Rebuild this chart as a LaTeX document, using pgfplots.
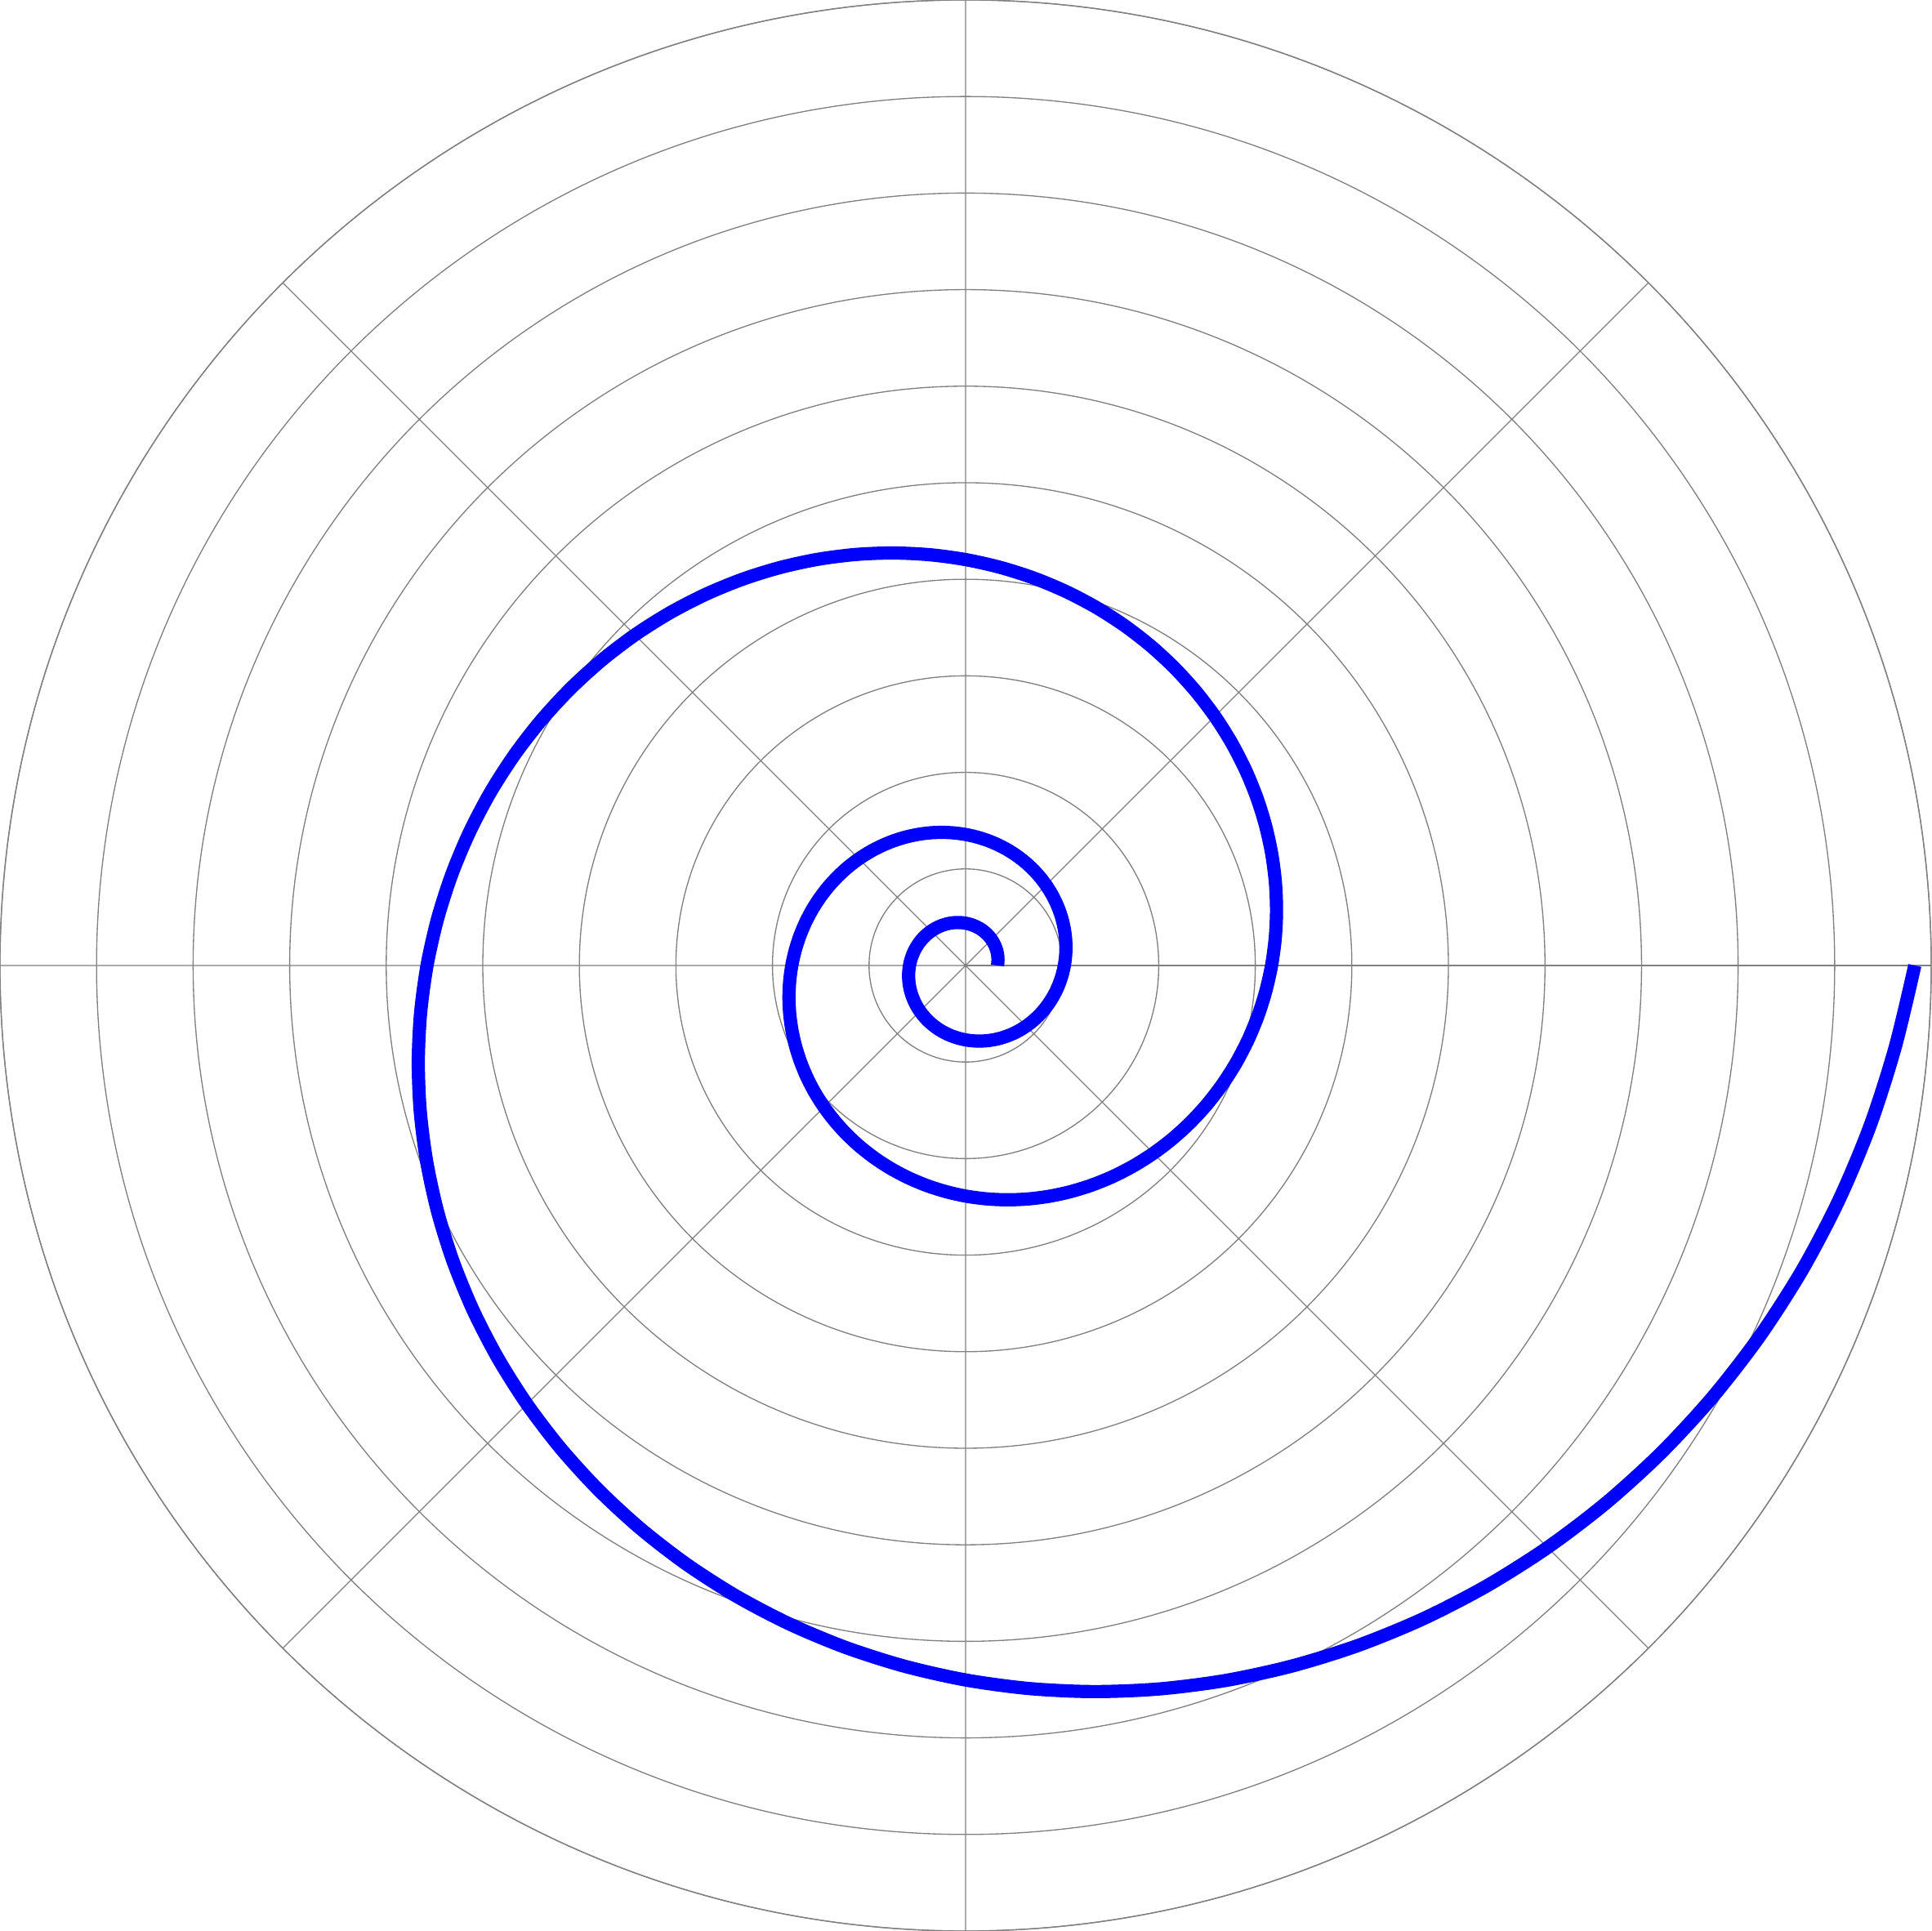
\documentclass[border=0pt]{standalone}
\usepackage{pgfplots}
\pgfplotsset{compat=1.18}
\usepgfplotslibrary{polar}
\begin{document}
\begin{tikzpicture}
\begin{polaraxis}[
  scale only axis,
  width=10cm, height=10cm,
  ymin=0, ymax=10,
  xtick={0,45,...,315},
  ytick={1,2,...,10},
  xticklabels={}, yticklabels={},
  major tick length=0pt,
  grid=major,
  major grid style={draw=gray, line width=0.16pt},
  axis line style={draw=gray, line width=0.16pt},
]
\addplot[blue, line width=1.95pt, no markers, line join=round, smooth] coordinates {
(0,0.33) (5,0.33522) (10,0.34053) (15,0.34592) (20,0.35140) (25,0.35696)
(30,0.36261) (35,0.36835) (40,0.37418) (45,0.38011) (50,0.38613) (55,0.39224)
(60,0.39846) (65,0.40477) (70,0.41118) (75,0.41768) (80,0.42429) (85,0.43101)
(90,0.43783) (95,0.44476) (100,0.45180) (105,0.45896) (110,0.46623) (115,0.47361)
(120,0.48110) (125,0.48872) (130,0.49645) (135,0.50432) (140,0.51230) (145,0.52042)
(150,0.52865) (155,0.53702) (160,0.54552) (165,0.55416) (170,0.56293) (175,0.57185)
(180,0.58090) (185,0.59010) (190,0.59944) (195,0.60893) (200,0.61857) (205,0.62836)
(210,0.63831) (215,0.64842) (220,0.65868) (225,0.66912) (230,0.67971) (235,0.69048)
(240,0.70140) (245,0.71251) (250,0.72379) (255,0.73524) (260,0.74688) (265,0.75871)
(270,0.77072) (275,0.78292) (280,0.79532) (285,0.80791) (290,0.82070) (295,0.83369)
(300,0.84689) (305,0.86030) (310,0.87392) (315,0.88776) (320,0.90182) (325,0.91609)
(330,0.93062) (335,0.94535) (340,0.96032) (345,0.97550) (350,0.99094) (355,1.00663)
(360,1.02256) (365,1.03875) (370,1.05520) (375,1.07190) (380,1.08887) (385,1.10611)
(390,1.12362) (395,1.14141) (400,1.15948) (405,1.17785) (410,1.19650) (415,1.21544)
(420,1.23471) (425,1.25426) (430,1.27412) (435,1.29425) (440,1.31474) (445,1.33556)
(450,1.35669) (455,1.37817) (460,1.39999) (465,1.42215) (470,1.44467) (475,1.46754)
(480,1.49078) (485,1.51438) (490,1.53836) (495,1.56273) (500,1.58747) (505,1.61260)
(510,1.63815) (515,1.66409) (520,1.69043) (525,1.71715) (530,1.74434) (535,1.77195)
(540,1.80000) (545,1.82850) (550,1.85745) (555,1.88685) (560,1.91672) (565,1.94707)
(570,1.97790) (575,2.00921) (580,2.04103) (585,2.07334) (590,2.10617) (595,2.13951)
(600,2.17339) (605,2.20780) (610,2.24275) (615,2.27826) (620,2.31433) (625,2.35097)
(630,2.38817) (635,2.42598) (640,2.46439) (645,2.50340) (650,2.54303) (655,2.58330)
(660,2.62424) (665,2.66579) (670,2.70799) (675,2.75091) (680,2.79446) (685,2.83871)
(690,2.88363) (695,2.92928) (700,2.97566) (705,3.02269) (710,3.07055) (715,3.11916)
(720,3.16853) (725,3.21869) (730,3.26965) (735,3.32141) (740,3.37399) (745,3.42741)
(750,3.48175) (755,3.53687) (760,3.59287) (765,3.64983) (770,3.70761) (775,3.76631)
(780,3.82590) (785,3.88647) (790,3.94800) (795,4.01037) (800,4.07386) (805,4.13836)
(810,4.20388) (815,4.27044) (820,4.33805) (825,4.40672) (830,4.47649) (835,4.54736)
(840,4.61944) (845,4.69258) (850,4.76687) (855,4.84241) (860,4.91908) (865,4.99696)
(870,5.07603) (875,5.15639) (880,5.23803) (885,5.32073) (890,5.40497) (895,5.49054)
(900,5.57754) (905,5.66584) (910,5.75555) (915,5.84666) (920,5.93922) (925,6.03326)
(930,6.12890) (935,6.22593) (940,6.32450) (945,6.42475) (950,6.52647) (955,6.62980)
(960,6.73466) (965,6.84128) (970,6.94960) (975,7.05932) (980,7.17108) (985,7.28462)
(990,7.40006) (995,7.51722) (1000,7.63623) (1005,7.75712) (1010,7.87993) (1015,8.00469)
(1020,8.13158) (1025,8.26032) (1030,8.39110) (1035,8.52410) (1040,8.65905) (1045,8.79615)
(1050,8.93530) (1055,9.07676) (1060,9.22047) (1065,9.36598) (1070,9.51426) (1075,9.66490)
(1080,9.83)
};
\end{polaraxis}
\pgfresetboundingbox
\path[use as bounding box] (current axis.south west) rectangle (current axis.north east);
\end{tikzpicture}
\end{document}
